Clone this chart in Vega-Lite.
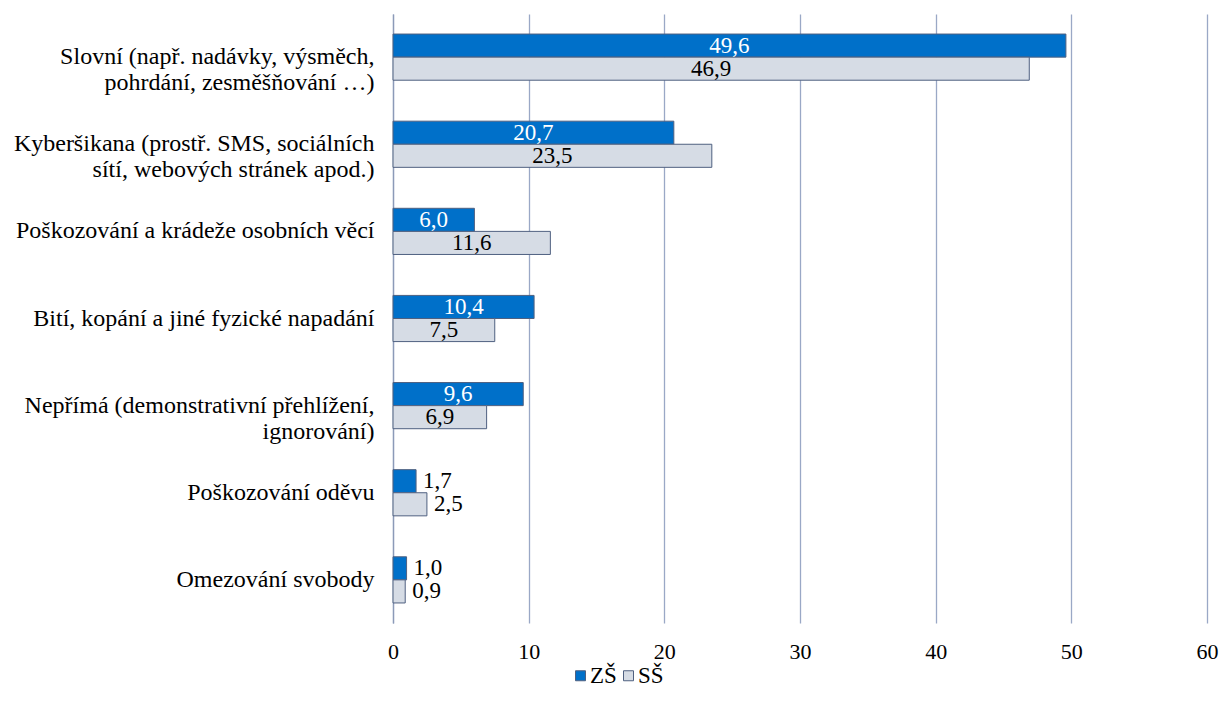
{
  "$schema": "https://vega.github.io/schema/vega-lite/v6.json",
  "width": 814,
  "height": 609,
  "autosize": {"type": "none"},
  "padding": {"left": 393, "top": 14, "right": 15, "bottom": 88},
  "background": "white",
  "config": {
    "locale": {"number": {"decimal": ",", "thousands": " ", "grouping": [3], "currency": ["", ""]}},
    "view": {"stroke": null},
    "font": "Liberation Serif"
  },
  "data": {
    "values": [
      {"cat": "Slovní (např. nadávky, výsměch,|pohrdání, zesměšňování …)", "group": "ZŠ", "value": 49.6},
      {"cat": "Slovní (např. nadávky, výsměch,|pohrdání, zesměšňování …)", "group": "SŠ", "value": 46.9},
      {"cat": "Kyberšikana (prostř. SMS, sociálních|sítí, webových stránek apod.)", "group": "ZŠ", "value": 20.7},
      {"cat": "Kyberšikana (prostř. SMS, sociálních|sítí, webových stránek apod.)", "group": "SŠ", "value": 23.5},
      {"cat": "Poškozování a krádeže osobních věcí", "group": "ZŠ", "value": 6.0},
      {"cat": "Poškozování a krádeže osobních věcí", "group": "SŠ", "value": 11.6},
      {"cat": "Bití, kopání a jiné fyzické napadání\u00a0", "group": "ZŠ", "value": 10.4},
      {"cat": "Bití, kopání a jiné fyzické napadání\u00a0", "group": "SŠ", "value": 7.5},
      {"cat": "Nepřímá (demonstrativní přehlížení,|ignorování)", "group": "ZŠ", "value": 9.6},
      {"cat": "Nepřímá (demonstrativní přehlížení,|ignorování)", "group": "SŠ", "value": 6.9},
      {"cat": "Poškozování oděvu\u00a0", "group": "ZŠ", "value": 1.7},
      {"cat": "Poškozování oděvu\u00a0", "group": "SŠ", "value": 2.5},
      {"cat": "Omezování svobody", "group": "ZŠ", "value": 1.0},
      {"cat": "Omezování svobody", "group": "SŠ", "value": 0.9}
    ]
  },
  "encoding": {
    "y": {
      "field": "cat",
      "type": "nominal",
      "sort": null,
      "scale": {"paddingInner": 0.47, "paddingOuter": 0.23},
      "axis": {
        "title": null,
        "labelExpr": "split(datum.label, '|')",
        "labelFont": "Liberation Serif",
        "labelFontSize": 24,
        "labelColor": "#000000",
        "labelLineHeight": 26,
        "labelPadding": 19,
        "labelLimit": 400,
        "ticks": false,
        "domain": true,
        "domainColor": "#8C9AB8",
        "domainWidth": 1.3,
        "grid": false
      }
    },
    "yOffset": {
      "field": "group",
      "type": "nominal",
      "sort": ["ZŠ", "SŠ"],
      "scale": {"paddingInner": 0, "paddingOuter": 0}
    }
  },
  "layer": [
    {
      "mark": {"type": "bar", "stroke": "#4F6080", "strokeWidth": 1},
      "encoding": {
        "x": {
          "field": "value",
          "type": "quantitative",
          "scale": {"domain": [0, 60], "nice": false},
          "axis": {
            "title": null,
            "values": [0, 10, 20, 30, 40, 50, 60],
            "labelFont": "Liberation Serif",
            "labelFontSize": 22,
            "labelColor": "#000000",
            "labelPadding": 18,
            "labelFlush": false,
            "ticks": false,
            "domain": false,
            "grid": true,
            "gridColor": "#9AA8C6",
            "gridWidth": 1.3
          }
        },
        "color": {
          "field": "group",
          "type": "nominal",
          "sort": ["ZŠ", "SŠ"],
          "scale": {"domain": ["ZŠ", "SŠ"], "range": ["#0070C9", "#D6DCE5"]},
          "legend": {
            "title": null,
            "orient": "none",
            "legendX": 176,
            "legendY": 650,
            "direction": "horizontal",
            "padding": 0,
            "symbolType": "square",
            "symbolSize": 100,
            "symbolStrokeColor": "#4F6080",
            "symbolStrokeWidth": 1,
            "labelFont": "Liberation Serif",
            "labelFontSize": 23,
            "labelColor": "#000000",
            "labelOffset": -2,
            "columnPadding": -2
          }
        }
      }
    },
    {
      "transform": [{"filter": "datum.value >= 5"}],
      "mark": {"type": "text", "fontSize": 23, "font": "Liberation Serif", "baseline": "middle", "align": "center"},
      "encoding": {
        "x": {"field": "value", "type": "quantitative", "scale": {"domain": [0, 120], "nice": false}, "axis": null},
        "text": {"field": "value", "type": "quantitative", "format": ".1f"},
        "color": {"field": "group", "type": "nominal", "scale": {"domain": ["ZŠ", "SŠ"], "range": ["#FFFFFF", "#000000"]}, "legend": null}
      }
    },
    {
      "transform": [{"filter": "datum.value < 5"}],
      "mark": {"type": "text", "fontSize": 23, "font": "Liberation Serif", "baseline": "middle", "align": "left", "dx": 7, "color": "#000000"},
      "encoding": {
        "x": {"field": "value", "type": "quantitative", "scale": {"domain": [0, 60], "nice": false}, "axis": null},
        "text": {"field": "value", "type": "quantitative", "format": ".1f"}
      }
    }
  ],
  "resolve": {"scale": {"x": "independent", "color": "independent"}}
}
